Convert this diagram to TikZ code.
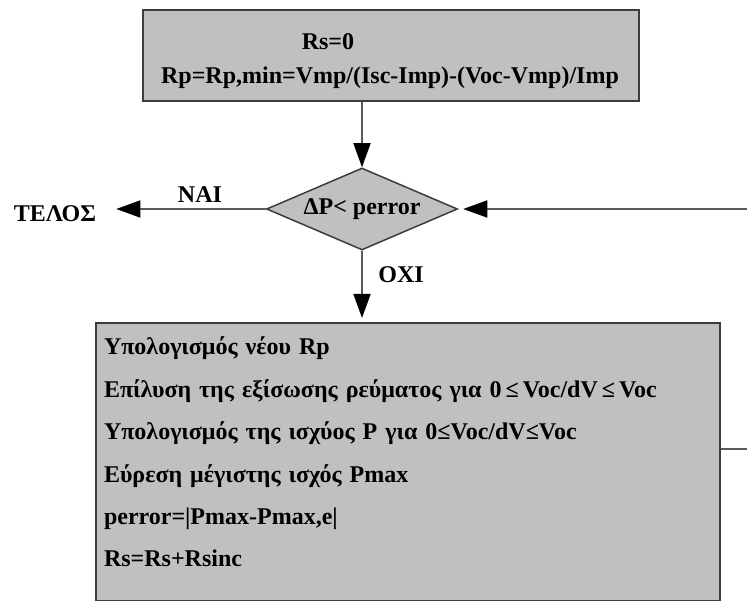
\documentclass[tikz,border=0pt]{standalone}
\usepackage{fontspec}
\setmainfont{Liberation Serif}
\usetikzlibrary{shapes.geometric,arrows.meta}

\definecolor{boxfill}{HTML}{C0C0C0}
\definecolor{boxline}{HTML}{3C3C3C}
\definecolor{wire}{HTML}{5A5A5A}

\tikzset{
  block/.style={rectangle, draw=boxline, fill=boxfill, line width=2pt},
  decision/.style={diamond, aspect=2.33, draw=boxline, fill=boxfill, line width=1.5pt,
    inner sep=0pt, minimum width=191pt, minimum height=82pt},
  flow/.style={draw=wire, line width=1.7pt, -{Triangle[length=24pt,width=17pt,color=black]}},
  plain/.style={draw=wire, line width=1.7pt},
}

\begin{document}
\begin{tikzpicture}[x=1pt,y=-1pt]
\fontsize{24}{42.4}\selectfont\bfseries
\useasboundingbox (0,0) rectangle (747,601);
% starting values
\node[block, anchor=north west, minimum width=496pt, minimum height=91pt] (init) at (142,9) {};
\node (rs) at (328,42) {Rs=0};
\node (rp) at (390,78) {Rp=Rp,min=Vmp/(Isc-Imp)-(Voc-Vmp)/Imp};
% test
\node[decision] (test) at (362,209) {ΔP< perror};
\node[inner sep=0pt] (telos) at (55,214) {ΤΕΛΟΣ};
\node (yes) at (200,195) {NAI};
\node (no) at (401,275) {OXI};
% loop body
\node[block, anchor=north west, minimum width=624pt, minimum height=278pt,
  text width=608pt, inner xsep=8pt, text depth=232pt, align=left] (update) at (95,322) {%
Υπολογισμός νέου Rp\\
Επίλυση της εξίσωσης ρεύματος για 0\,≤\,Voc/dV\,≤\,Voc\\
Υπολογισμός της ισχύος P για 0≤Voc/dV≤Voc\\
Εύρεση μέγιστης ισχός Pmax\\
perror=|Pmax-Pmax,e|\\
Rs=Rs+Rsinc};
\coordinate (back) at (747,209);
\coordinate (loop) at (747,449);
% connectors
\draw[flow] (test.north |- init.south) -- (test.north);
\draw[flow, shorten >=20pt] (test.west) -- (telos.east |- test.west);
\draw[flow, shorten >=4pt] (test.south) -- (test.south |- update.north);
\draw[flow, shorten >=5pt] (back) -- (test.east);
\draw[plain] (update.east |- loop) -- (loop);
\end{tikzpicture}
\end{document}
